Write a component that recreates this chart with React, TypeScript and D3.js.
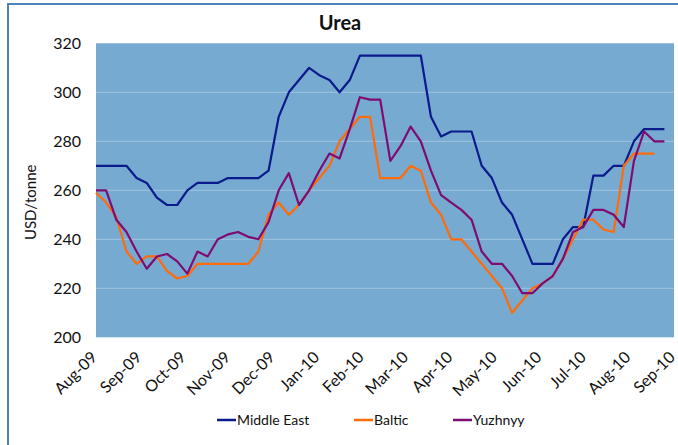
import React from "react";
import * as d3 from "d3";

const monthLabels = ["Aug-09","Sep-09","Oct-09","Nov-09","Dec-09","Jan-10","Feb-10","Mar-10","Apr-10","May-10","Jun-10","Jul-10","Aug-10","Sep-10"];
const yTicks = [200, 220, 240, 260, 280, 300, 320];

const middleEast = [270,270,270,270,265,263,257,254,254,260,263,263,263,265,265,265,265,268,290,300,
  305,310,307,305,300,305,315,315,315,315,315,315,315,290,282,284,284,284,270,265,255,250,240,230,230,230,
  240,245,245,266,266,270,270,280,285,285,285];
const baltic = [259,255,249,235,230,233,233,227,224,225,230,230,230,230,230,230,235,250,255,250,
  254,260,265,270,280,285,290,290,265,265,265,270,268,255,250,240,240,235,230,225,220,210,215,220,222,225,
  232,240,248,248,244,243,270,275,275,275,null];
const yuzhnyy = [260,260,248,243,235,228,233,234,231,226,235,233,240,242,243,241,240,247,260,267,
  254,260,268,275,273,285,298,297,297,272,278,286,280,268,258,255,252,248,235,230,230,225,218,218,222,225,
  232,243,245,252,252,250,245,272,284,280,280];

const series = [
  { name: "Middle East", values: middleEast, color: "#0b1a8c" },
  { name: "Baltic", values: baltic, color: "#ff6a0a" },
  { name: "Yuzhnyy", values: yuzhnyy, color: "#7e0c72" },
];

export default function App() {
  const W = 678, H = 445;
  const left = 96, right = 674, top = 43.3, bottom = 337.3;
  const n = middleEast.length;
  const step = 10.15;
  const x = d3.scaleLinear().domain([0, n - 1]).range([left, left + step * (n - 1)]);
  const y = d3.scaleLinear().domain([200, 320]).range([bottom, top]);
  const xm = d3.scalePoint<string>().domain(monthLabels).range([left, right]);
  const font = "Lato, 'Open Sans', sans-serif";

  const line = d3.line<number | null>()
    .defined((d) => d != null)
    .x((_, i) => x(i))
    .y((d) => y(d as number));

  const legend = [
    { name: "Middle East", x0: 217, color: series[0].color },
    { name: "Baltic", x0: 354, color: series[1].color },
    { name: "Yuzhnyy", x0: 453, color: series[2].color },
  ];

  return (
    <svg width={W} height={H} style={{ position: "absolute", left: 0, top: 0, background: "#fff" }}>
      <rect x={8} y={4} width={700} height={480} fill="#fff" stroke="#4f81bd" strokeWidth={2} />
      <text x={340} y={30} textAnchor="middle" fontFamily={font} fontWeight="bold" fontSize={20} fill="#111">Urea</text>
      <rect x={left} y={top} width={right - left} height={bottom - top} fill="#77aad0" />
      {yTicks.slice(1, -1).map((t) => (
        <line key={t} x1={left} x2={right} y1={y(t)} y2={y(t)} stroke="#9ec4e0" strokeWidth={1} />
      ))}
      {yTicks.map((t) => (
        <text key={t} x={81} y={y(t)} dy="0.35em" textAnchor="end" fontFamily={font} fontSize={16} fill="#111">{t}</text>
      ))}
      <text transform={`translate(36,${(top + bottom) / 2 + 12}) rotate(-90)`} textAnchor="middle" fontFamily={font} fontSize={15} fill="#111">USD/tonne</text>
      {monthLabels.map((m) => (
        <text key={m} transform={`translate(${(xm(m) as number) + 2},${bottom + 21}) rotate(-45)`} textAnchor="end" fontFamily={font} fontSize={16} fill="#111">{m}</text>
      ))}
      {series.map((s) => (
        <path key={s.name} d={line(s.values) || ""} fill="none" stroke={s.color} strokeWidth={2.2} strokeLinejoin="round" />
      ))}
      {legend.map((l) => (
        <g key={l.name}>
          <line x1={l.x0} x2={l.x0 + 19} y1={420} y2={420} stroke={l.color} strokeWidth={2.5} />
          <text x={l.x0 + 20} y={420} dy="0.35em" fontFamily={font} fontSize={14} fill="#111">{l.name}</text>
        </g>
      ))}
    </svg>
  );
}
